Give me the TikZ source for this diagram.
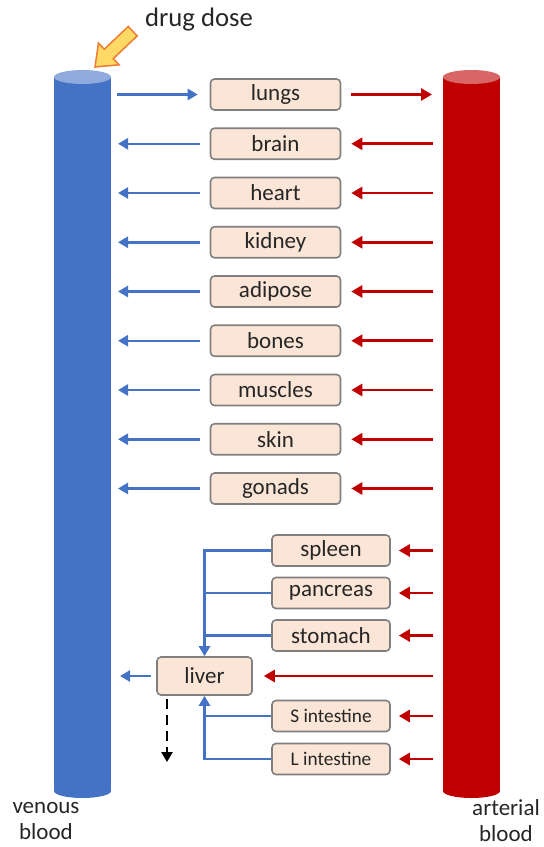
\documentclass[tikz,border=0pt]{standalone}
\usepackage{fontspec}
\setmainfont{Carlito}
\usetikzlibrary{arrows.meta}
\definecolor{bl}{HTML}{4472C4}
\definecolor{bltop}{HTML}{8FAADC}
\definecolor{rd}{HTML}{C00000}
\definecolor{rdtop}{HTML}{D96666}
\definecolor{boxfill}{HTML}{FBE5D6}
\definecolor{boxdraw}{HTML}{7F7F7F}
\definecolor{tx}{HTML}{262626}
\definecolor{ylw}{HTML}{FFD966}
\definecolor{org}{HTML}{ED7D31}
\tikzset{
  organ/.style={draw=boxdraw, fill=boxfill, rounded corners=4pt, line width=1.6pt,
    minimum width=130pt, minimum height=31pt, inner sep=0pt, text=tx,
    font=\fontsize{23}{27}\selectfont},
  organs/.style={organ, minimum width=118pt},
  smalltxt/.style={font=\fontsize{19.3}{23}\selectfont},
  barrow/.style={draw=bl, line width=2.5pt, -{Triangle[length=10pt,width=11pt]}},
  rarrow/.style={draw=rd, line width=2.8pt, -{Triangle[length=11pt,width=12pt]}},
  bline/.style={draw=bl, line width=2.5pt},
  lbl/.style={text=tx, align=center, font=\fontsize{23}{26}\selectfont, inner sep=0pt}
}
\begin{document}
\begin{tikzpicture}[x=1pt,y=-1pt]
\useasboundingbox (0,0) rectangle (544,847);
% venous cylinder
\fill[bl] (54,77) rectangle (111,791);
\fill[bl] (82.5,791) ellipse (28.5 and 7);
\fill[bltop] (82.5,77) ellipse (28.5 and 7);
% arterial cylinder
\fill[rd] (443,77) rectangle (500,791);
\fill[rd] (471.5,791) ellipse (28.5 and 7);
\fill[rdtop] (471.5,77) ellipse (28.5 and 7);
% drug dose arrow
\begin{scope}[shift={(95,67)}, rotate=223.5]
\draw[fill=ylw, draw=org, line width=1.5pt, line join=miter]
  (0,0) -- (-19,15) -- (-19,6.5) -- (-52,6.5) -- (-52,-6.5) -- (-19,-6.5) -- (-19,-15) -- cycle;
\end{scope}
\node[lbl, font=\fontsize{26.7}{30}\selectfont] (dd) at (199,20) {drug dose};
% labels
\node[lbl] (ven) at (46,820.5) {venous\\blood};
\node[lbl] (art) at (506,820.5) {arterial\\blood};
% organ boxes
\node[organ] (lungs) at (275.5,94.5) {lungs};
\node[organ] (brain) at (275.5,143.75) {brain};
\node[organ] (heart) at (275.5,193) {heart};
\node[organ] (kidney) at (275.5,242.25) {kidney};
\node[organ] (adipose) at (275.5,291.5) {adipose};
\node[organ] (bones) at (275.5,340.75) {bones};
\node[organ] (muscles) at (275.5,390) {muscles};
\node[organ] (skin) at (275.5,439.25) {skin};
\node[organ] (gonads) at (275.5,488.5) {gonads};
\node[organs] (spleen) at (331,550.5) {spleen};
\node[organs] (pancreas) at (331,593) {pancreas};
\node[organs] (stomach) at (331,635.5) {stomach};
\node[organ, minimum width=95pt, minimum height=38pt] (liver) at (204.5,676) {liver};
\node[organs, smalltxt] (sint) at (331,716) {S intestine};
\node[organs, smalltxt] (lint) at (331,759) {L intestine};
% free ends
\coordinate (vt) at (118,0);
\coordinate (vs) at (117,0);
\coordinate (at) at (433,0);
\coordinate (ai) at (432,0);
\coordinate (bx) at (204.5,0);
% lungs
\draw[barrow, shorten >=12pt] (lungs.west -| vs) -- (lungs.west);
\draw[rarrow, shorten <=10pt] (lungs.east) -- (lungs.east -| ai);
% other organs
\foreach \o in {brain,heart,kidney,adipose,bones,muscles,skin,gonads}{
  \draw[barrow, shorten <=10pt] (\o.west) -- (\o.west -| vt);
  \draw[rarrow, shorten >=10pt] (\o.east -| at) -- (\o.east);
}
\foreach \o in {spleen,pancreas,stomach,sint,lint}{
  \draw[rarrow, shorten >=8pt] (\o.east -| at) -- (\o.east);
}
\draw[rarrow, shorten >=11pt] (liver.east -| at) -- (liver.east);
\draw[barrow, shorten <=5pt] (liver.west) -- (liver.west -| 120,0);
% portal system
\draw[bline] (pancreas.west) -- (pancreas.west -| bx);
\draw[bline] (stomach.west) -- (stomach.west -| bx);
\draw[bline] (sint.west) -- (sint.west -| bx);
\draw[barrow] (spleen.west) -- (spleen.west -| bx) -- (liver.north);
\draw[barrow] (lint.west) -- (lint.west -| bx) -- (liver.south);
% excretion
\coordinate (ex) at (167,762);
\draw[draw=black, line width=2.5pt, dash pattern=on 10pt off 6pt, -{Triangle[length=10pt,width=11pt]}, shorten <=3pt]
  (liver.south -| ex) -- (ex);
\end{tikzpicture}
\end{document}
